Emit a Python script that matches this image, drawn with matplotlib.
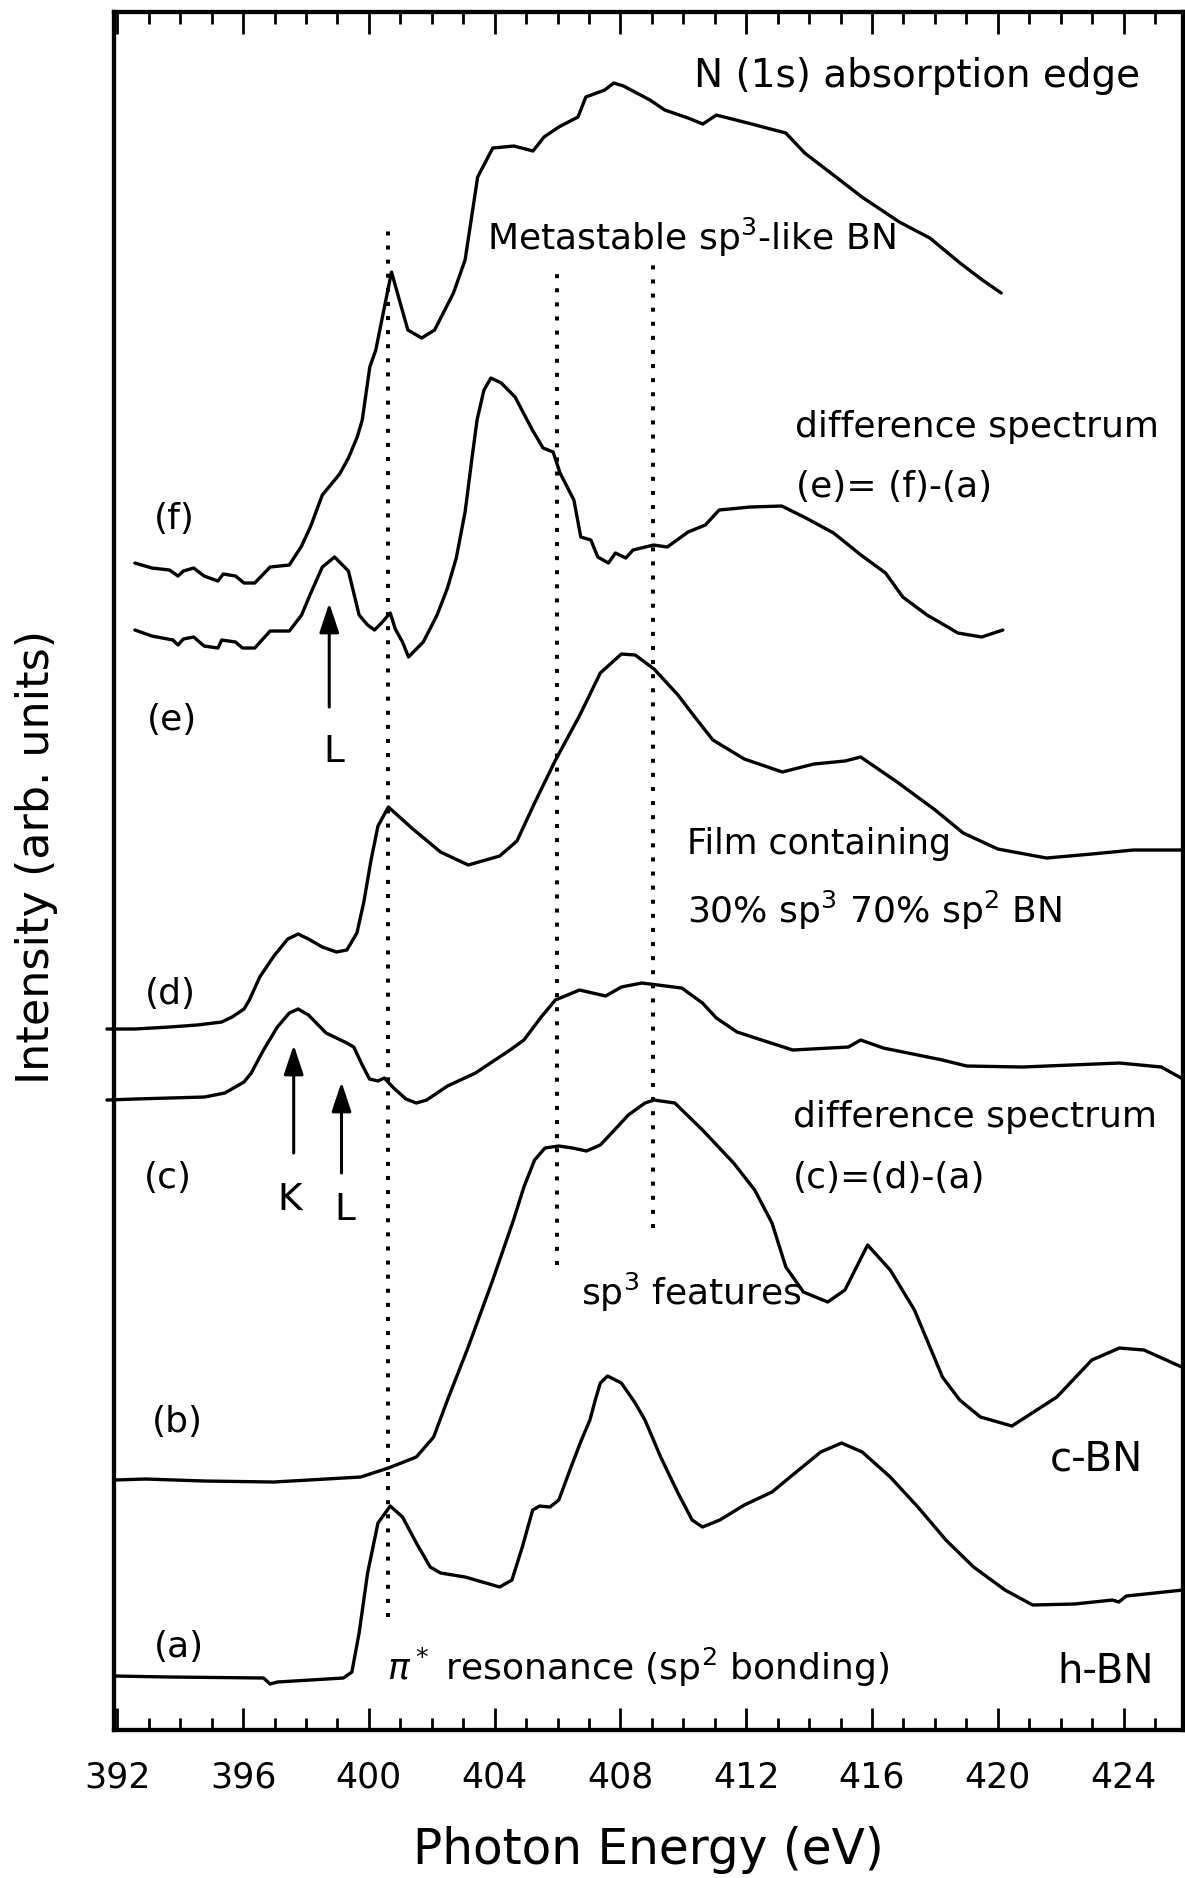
import matplotlib
matplotlib.use('Agg')
import matplotlib.pyplot as plt
from matplotlib.ticker import MultipleLocator

plt.rcParams['font.family'] = ['DejaVu Sans']
plt.rcParams['mathtext.fontset'] = 'dejavusans'

# ---------------- data (photon energy in eV, intensity in arb. units) ----------------
E_a = [391.91, 393.66, 396.65, 396.86, 397.09, 399.19, 399.46, 399.69, 399.96, 400.29,
       400.68, 401.07, 401.51, 401.95, 402.28, 403.06, 404.16, 404.55, 404.88, 405.21,
       405.43, 405.76, 406.04, 406.43, 406.76, 407.03, 407.20, 407.36, 407.59, 408.03,
       408.47, 408.78, 409.28, 409.83, 410.28, 410.61, 411.16, 411.94, 412.82, 413.59,
       414.37, 415.03, 415.69, 416.58, 417.46, 418.35, 419.23, 420.23, 421.11, 422.44,
       423.65, 423.85, 424.09, 425.89]
I_a = [5.4, 5.3, 5.2, 4.6, 4.8, 5.2, 5.8, 9.7, 15.7, 20.7,
       22.4, 21.3, 18.7, 16.3, 15.7, 15.3, 14.3, 15.0, 18.3, 22.0,
       22.4, 22.3, 23.0, 26.3, 29.0, 31.0, 33.0, 34.7, 35.4, 34.7,
       32.7, 31.0, 27.3, 23.7, 21.0, 20.3, 21.0, 22.5, 23.8, 25.8,
       27.8, 28.7, 27.8, 25.3, 22.3, 19.0, 16.3, 14.0, 12.5, 12.6,
       13.0, 12.8, 13.4, 14.0]

E_b = [391.91, 392.89, 394.77, 396.98, 398.64, 399.74, 400.62, 401.51, 402.06, 402.50,
       403.16, 403.94, 404.60, 404.93, 405.27, 405.60, 406.04, 406.48, 406.92, 407.36,
       407.81, 408.25, 408.78, 409.07, 409.73, 410.61, 411.60, 412.27, 412.82, 413.26,
       413.82, 414.59, 415.14, 415.86, 416.58, 417.35, 417.79, 418.24, 418.79, 419.45,
       420.45, 421.88, 422.99, 423.87, 424.65, 425.85]
I_b = [25.0, 25.1, 24.9, 24.8, 25.1, 25.3, 26.2, 27.3, 29.3, 33.0,
       38.3, 45.0, 51.0, 54.3, 57.0, 58.2, 58.4, 58.2, 57.9, 58.5,
       60.0, 61.5, 62.7, 63.0, 62.7, 60.0, 56.7, 54.0, 50.7, 46.3,
       43.8, 42.8, 44.0, 48.5, 46.0, 42.0, 38.7, 35.3, 33.0, 31.3,
       30.4, 33.3, 37.0, 38.2, 38.0, 36.3]

E_c = [391.67, 392.56, 393.66, 394.77, 395.42, 396.03, 396.26, 396.65, 397.09, 397.47,
       397.75, 398.08, 398.64, 399.30, 399.52, 399.79, 400.02, 400.29, 400.49, 400.79,
       401.18, 401.51, 401.84, 402.50, 403.39, 404.49, 404.93, 405.48, 405.93, 406.70,
       407.53, 408.03, 408.68, 409.95, 410.61, 411.05, 411.71, 412.49, 413.48, 415.25,
       415.64, 416.36, 418.24, 419.01, 420.78, 423.87, 425.20, 425.89]
I_c = [63.0, 63.1, 63.2, 63.3, 63.7, 64.8, 65.7, 68.0, 70.3, 71.7,
       72.1, 71.5, 69.7, 68.7, 68.3, 66.5, 65.1, 64.9, 65.2, 64.2,
       63.1, 62.7, 63.0, 64.4, 65.7, 68.0, 69.0, 71.3, 73.0, 74.0,
       73.4, 74.3, 74.7, 74.2, 72.7, 71.2, 69.8, 69.0, 68.0, 68.3,
       69.0, 68.2, 67.0, 66.4, 66.3, 66.7, 66.3, 65.1]

E_d = [391.67, 392.56, 393.66, 394.54, 395.32, 395.65, 396.03, 396.20, 396.53, 396.98,
       397.42, 397.75, 398.08, 398.52, 398.97, 399.30, 399.62, 399.84, 400.07, 400.29,
       400.62, 401.40, 402.28, 403.16, 404.16, 404.71, 405.27, 405.92, 406.71, 407.36,
       408.03, 408.47, 409.07, 409.83, 410.39, 410.94, 411.94, 413.15, 414.15, 415.14,
       415.64, 416.80, 418.01, 418.90, 420.00, 421.55, 422.99, 424.31, 425.89]
I_d = [70.1, 70.1, 70.3, 70.5, 70.8, 71.3, 72.1, 73.0, 75.3, 77.4,
       79.1, 79.6, 79.1, 78.3, 77.8, 78.0, 79.7, 82.8, 87.0, 90.4,
       92.3, 90.1, 87.8, 86.5, 87.4, 88.9, 92.7, 96.9, 101.5, 105.7,
       107.6, 107.5, 106.1, 103.5, 101.2, 99.0, 97.1, 95.8, 96.6, 96.9,
       97.3, 94.8, 92.0, 89.7, 88.1, 87.2, 87.6, 88.0, 88.0]

E_e = [392.56, 393.10, 393.77, 393.93, 394.10, 394.43, 394.76, 395.20, 395.32, 395.76,
       395.98, 396.37, 396.86, 397.47, 397.86, 398.14, 398.52, 398.91, 399.35, 399.69,
       399.96, 400.18, 400.40, 400.68, 400.84, 401.07, 401.26, 401.73, 402.17, 402.50,
       402.78, 403.06, 403.28, 403.44, 403.66, 403.88, 404.21, 404.65, 405.20, 405.54,
       405.86, 406.08, 406.52, 406.74, 407.06, 407.28, 407.62, 407.84, 408.17, 408.40,
       409.05, 409.49, 410.15, 410.70, 411.14, 412.13, 413.13, 413.90, 414.78, 415.65,
       416.43, 416.98, 417.75, 418.41, 418.73, 419.49, 420.16]
I_e = [110.0, 109.4, 109.0, 108.5, 109.1, 109.3, 108.4, 108.2, 109.0, 108.8,
       108.2, 108.2, 109.9, 109.9, 111.5, 113.6, 116.3, 117.3, 115.9, 111.5,
       110.5, 110.0, 110.7, 111.7, 110.1, 108.8, 107.3, 108.8, 111.5, 114.2,
       117.2, 121.8, 127.2, 131.0, 134.0, 135.2, 134.7, 133.3, 130.0, 128.2,
       127.8, 125.7, 123.0, 119.3, 119.0, 117.3, 116.7, 117.7, 117.2, 118.0,
       118.5, 118.3, 119.8, 120.5, 122.0, 122.3, 122.4, 121.2, 119.7, 117.5,
       115.7, 113.3, 111.5, 110.3, 109.7, 109.3, 110.0]

E_f = [392.56, 393.10, 393.66, 393.93, 394.10, 394.43, 394.76, 395.20, 395.37, 395.76,
       396.03, 396.37, 396.86, 397.47, 397.86, 398.14, 398.52, 399.07, 399.35, 399.63,
       399.79, 400.03, 400.22, 400.72, 401.24, 401.68, 402.09, 402.69, 403.06, 403.46,
       403.94, 404.61, 405.22, 405.57, 406.04, 406.65, 406.90, 407.50, 407.79, 408.10,
       408.46, 408.94, 409.41, 410.15, 410.62, 411.05, 412.05, 413.26, 413.86, 414.69,
       415.68, 416.87, 417.84, 418.80, 419.51, 420.11]
I_f = [116.7, 116.2, 116.0, 115.4, 115.9, 116.2, 115.4, 114.9, 115.6, 115.4,
       114.7, 114.7, 116.3, 116.5, 118.4, 120.3, 123.5, 125.6, 127.2, 129.3,
       131.0, 136.3, 138.0, 145.8, 140.0, 139.2, 140.0, 143.7, 147.0, 155.3,
       158.2, 158.4, 157.9, 159.3, 160.3, 161.3, 163.3, 164.0, 164.7, 164.4,
       163.8, 163.0, 162.0, 161.2, 160.6, 161.5, 160.7, 159.7, 157.7, 155.7,
       153.3, 150.8, 149.2, 146.7, 145.0, 143.7]

# vertical dotted guide lines (energy, top, bottom)
DOT_E = [400.62, 405.98, 409.03]
DOT_TOP = [150.2, 146.5, 146.8]
DOT_BOTTOM = [11.3, 46.5, 50.2]

# K / L arrows
ARROW_LABEL = ['L', 'K', 'L']
ARROW_E = [398.74, 397.61, 399.13]
ARROW_TAIL = [102.3, 57.7, 55.7]
ARROW_TIP = [112.7, 68.5, 64.8]
ARROW_TEXT_E = [398.87, 397.49, 399.24]
ARROW_TEXT_I = [96.8, 52.0, 51.0]

X_TICKS = [392, 396, 400, 404, 408, 412, 416, 420, 424]

# ---------------- figure ----------------
fig = plt.figure(figsize=(11.85, 18.78), dpi=100)
ax = fig.add_axes([0.0958, 0.0788, 0.9025, 0.9148])

LW = 2.4
curves = [(E_a, I_a, True), (E_b, I_b, True), (E_c, I_c, False),
          (E_d, I_d, False), (E_e, I_e, True), (E_f, I_f, True)]
for E, I, clip in curves:
    ax.plot(E, I, color='black', lw=LW, clip_on=clip,
            solid_joinstyle='round', solid_capstyle='round')

for e, top, bot in zip(DOT_E, DOT_TOP, DOT_BOTTOM):
    ax.plot([e, e], [bot, top], color='black', lw=2.9,
            linestyle=(0, (1.0, 2.5)), dash_capstyle='butt')

for lab, e, tail, tip, te, ti in zip(ARROW_LABEL, ARROW_E, ARROW_TAIL, ARROW_TIP,
                                      ARROW_TEXT_E, ARROW_TEXT_I):
    ax.annotate('', xy=(e, tip), xytext=(e, tail),
                arrowprops=dict(arrowstyle='-|>,head_length=0.9,head_width=0.3',
                                color='black', lw=2.2, shrinkA=0, shrinkB=0,
                                mutation_scale=20))
    ax.text(te, ti, lab, fontsize=27, ha='center', va='baseline')

def note(e, i, s, size=26, ha='left'):
    ax.text(e, i, s, fontsize=size, ha=ha, va='baseline')

note(410.34, 164.3, 'N (1s) absorption edge', 28)
note(403.77, 148.0, 'Metastable sp$^3$-like BN')
note(413.56, 129.3, 'difference spectrum')
note(413.58, 123.3, '(e)= (f)-(a)')
note(410.11, 87.6, 'Film containing', 25)
note(410.11, 80.7, '30% sp$^3$ 70% sp$^2$ BN')
note(413.48, 60.3, 'difference spectrum')
note(413.48, 54.2, '(c)=(d)-(a)')
note(406.74, 42.5, 'sp$^3$ features')
note(421.66, 26.0, 'c-BN', 29)
note(400.58, 5.0, r'$\pi^*$ resonance (sp$^2$ bonding)')
note(421.88, 4.7, 'h-BN', 29)

note(393.17, 120.1, '(f)')
note(392.95, 100.0, '(e)')
note(392.88, 72.6, '(d)')
note(392.83, 54.2, '(c)')
note(393.11, 29.8, '(b)')
note(393.17, 7.3, '(a)')

ax.set_xlim(391.88, 425.89)
ax.set_ylim(0, 171.8)
ax.set_xticks(X_TICKS)
ax.set_xticklabels([str(t) for t in X_TICKS])
ax.xaxis.set_minor_locator(MultipleLocator(1))
ax.tick_params(axis='x', which='both', direction='in', top=True, bottom=True,
               width=2.0, labelsize=25, pad=22, color='black')
ax.tick_params(axis='x', which='major', length=16)
ax.tick_params(axis='x', which='minor', length=8.5)
ax.tick_params(axis='y', which='both', left=False, right=False, labelleft=False)
for sp in ax.spines.values():
    sp.set_linewidth(3.1)

ax.set_xlabel('Photon Energy (eV)', fontsize=35)
ax.xaxis.set_label_coords(0.5, -0.0559)
ax.set_ylabel('Intensity (arb. units)', fontsize=32)
ax.yaxis.set_label_coords(-0.052, 0.508)

fig.savefig('out.png', dpi=100)
